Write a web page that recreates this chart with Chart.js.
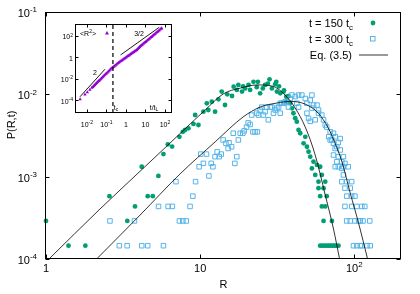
<!DOCTYPE html>
<html><head><meta charset="utf-8">
<script src="https://cdn.jsdelivr.net/npm/chart.js@4/dist/chart.umd.min.js"></script>
<style>
html,body{margin:0;padding:0;background:#fff;}
#wrap{position:relative;width:420px;height:294px;overflow:hidden;}
#main{position:absolute;left:0;top:0;}
#inset{position:absolute;left:40px;top:14px;}
</style></head><body>
<div id="wrap"><canvas id="main" width="420" height="294"></canvas><canvas id="inset" width="140" height="120"></canvas></div>
<script>
// ---------- main panel data ----------
const xTicks = [1, 10, 100];
const xTickLabels = ['1', '10', '10^2'];
const yTicks = [1e-4, 1e-3, 1e-2, 1e-1];
const yTickLabels = ['10^-4', '10^-3', '10^-2', '10^-1'];

const r150 = [1.0, 1.40, 1.80, 2.58, 3.37, 3.78, 4.18, 4.57, 4.93, 5.36, 5.78, 6.17, 6.58, 7.34, 7.72, 7.99, 8.40, 9.05, 9.28, 9.75,
  10.5, 11.05, 11.3, 11.9, 12.5, 13.15, 13.8, 14.5, 15.0, 16.1, 16.5, 17.3, 17.7, 18.7, 19.0, 19.6, 20.6, 21.1, 22.2, 23.3,
  23.7, 24.5, 25.5, 26.4, 27.5, 28.2, 29.2, 30.7, 31.2, 31.5, 32.5, 33.1, 34.8, 35.0, 36.2, 36.5, 37.5, 38.4, 39.4, 40.3,
  41.4, 42.4, 43.5, 44.6, 46.9, 48.1, 49.3, 50.5, 51.8, 53.1, 54.4, 55.8, 57.3, 58.6, 58.6, 60.1, 60.1, 61.6, 61.6, 63.2,
  63.2, 64.8, 64.8, 66.3, 71.6, 60.1, 62.0, 64.0, 66.0, 68.0, 70.0, 72.0, 74.0, 76.0, 79.0];
const p150 = [2.9e-4, 1.45e-4, 1.45e-4, 5.8e-4, 2.9e-4, 4.35e-4, 1.32e-3, 5.8e-4, 5.8e-4, 1.02e-3, 1.88e-3, 2.47e-3, 2.32e-3, 3.05e-3, 3.5e-3, 3.69e-3, 3.86e-3, 4.37e-3, 5.61e-3, 4.24e-3,
  6.15e-3, 7.78e-3, 6.45e-3, 8.14e-3, 6.15e-3, 8.7e-3, 1.08e-2, 7.42e-3, 1.0e-2, 9.55e-3, 1.24e-2, 1.13e-2, 1.30e-2, 1.08e-2, 1.25e-2, 1.18e-2, 1.30e-2, 1.13e-2, 1.42e-2, 1.22e-2,
  1.42e-2, 1.03e-2, 1.18e-2, 1.30e-2, 1.35e-2, 1.52e-2, 1.18e-2, 1.33e-2, 1.42e-2, 1.08e-2, 1.25e-2, 1.03e-2, 1.08e-2, 1.12e-2, 9.36e-3, 8.14e-3, 9.5e-3, 7.78e-3, 6.76e-3, 5.89e-3,
  5.12e-3, 4.66e-3, 3.69e-3, 3.37e-3, 2.54e-3, 3.05e-3, 2.31e-3, 2.01e-3, 1.75e-3, 1.26e-3, 1.52e-3, 1.05e-3, 1.39e-3, 8.7e-4, 7.25e-4, 1.32e-3, 5.8e-4, 1.05e-3, 4.35e-4, 7.25e-4,
  2.9e-4, 8.7e-4, 4.35e-4, 5.8e-4, 2.9e-4, 1.45e-4, 1.45e-4, 1.45e-4, 1.45e-4, 1.45e-4, 1.45e-4, 1.45e-4, 1.45e-4, 1.45e-4, 1.45e-4];

const r300 = [2.60, 2.99, 3.36, 3.75, 4.18, 4.57, 5.37, 5.78, 6.2, 6.6, 6.97, 7.34, 7.72, 8.13, 8.6, 8.97, 9.34, 9.85, 10.1, 10.5,
  11.0, 11.4, 11.8, 12.1, 12.5, 12.9, 13.3, 13.7, 14.1, 14.7, 15.2, 15.4, 16.0, 16.4, 16.8, 17.3, 17.7, 18.2, 18.9, 19.3,
  20.0, 20.5, 21.1, 21.6, 22.0, 22.7, 23.3, 23.5, 23.9, 24.5, 25.1, 25.7, 26.4, 27.0, 27.7, 28.5, 29.2, 29.9, 30.7, 31.5,
  32.3, 33.1, 33.1, 33.9, 34.8, 35.6, 36.5, 37.4, 38.4, 39.4, 41.4, 42.4, 43.5, 43.5, 45.7, 48.1, 49.3, 49.3, 50.5, 51.8,
  51.8, 53.1, 53.1, 54.4, 55.8, 57.3, 58.6, 58.6, 61.6, 63.2, 64.8, 66.3, 68.3, 69.8, 69.8, 71.6, 73.3, 73.3, 73.3, 75.2,
  75.2, 75.2, 77.1, 77.1, 78.8, 78.8, 78.8, 81.1, 81.1, 83.0, 83.0, 83.0, 85.0, 85.0, 85.0, 87.0, 87.0, 87.0, 89.3, 89.3,
  89.3, 91.4, 94.2, 94.2, 96.2, 96.2, 96.2, 98.8, 101, 101, 104, 104, 106.7, 109.4, 109.4, 112, 112, 114, 117, 121, 126, 127];
const p300 = [2.9e-4, 1.45e-4, 1.45e-4, 2.9e-4, 1.45e-4, 1.45e-4, 4.35e-4, 1.45e-4, 4.35e-4, 4.35e-4, 8.7e-4, 2.9e-4, 2.9e-4, 2.9e-4, 4.35e-4, 5.8e-4, 8.7e-4, 1.32e-3, 1.88e-3, 1.45e-3,
  1.88e-3, 1.02e-3, 1.45e-3, 1.32e-3, 1.75e-3, 2.0e-3, 1.75e-3, 1.88e-3, 2.79e-3, 2.54e-3, 2.2e-3, 2.58e-3, 2.31e-3, 3.37e-3, 1.45e-3, 1.75e-3, 2.79e-3, 3.37e-3, 3.37e-3, 3.6e-3,
  4.0e-3, 4.5e-3, 4.3e-3, 5.6e-3, 3.5e-3, 3.5e-3, 5.9e-3, 3.5e-3, 5.6e-3, 6.45e-3, 7.0e-3, 5.6e-3, 6.15e-3, 7.0e-3, 4.9e-3, 7.0e-3, 7.0e-3, 5.9e-3, 6.45e-3, 6.8e-3,
  7.0e-3, 7.8e-3, 5.9e-3, 7.8e-3, 7.8e-3, 8.1e-3, 8.1e-3, 7.0e-3, 8.9e-3, 9.8e-3, 9.4e-3, 7.8e-3, 9.8e-3, 7.0e-3, 9.8e-3, 8.9e-3, 7.8e-3, 5.9e-3, 5.1e-3, 8.5e-3,
  4.7e-3, 9.8e-3, 6.8e-3, 7.4e-3, 4.9e-3, 7.4e-3, 6.45e-3, 5.9e-3, 5.6e-3, 4.9e-3, 4.24e-3, 4.0e-3, 3.05e-3, 3.5e-3, 2.79e-3, 2.79e-3, 3.37e-3, 2.54e-3, 1.83e-3, 3.05e-3,
  2.2e-3, 1.32e-3, 2.31e-3, 1.52e-3, 2.6e-3, 1.75e-3, 1.32e-3, 2.9e-3, 2.11e-3, 1.52e-3, 1.26e-3, 8.7e-4, 1.75e-3, 1.32e-3, 1.05e-3, 1.45e-3, 7.25e-4, 4.35e-4, 8.7e-4, 5.8e-4,
  2.9e-4, 1.32e-3, 7.25e-4, 2.9e-4, 8.7e-4, 5.8e-4, 4.35e-4, 1.45e-4, 5.8e-4, 2.9e-4, 4.35e-4, 1.45e-4, 2.9e-4, 2.9e-4, 1.45e-4, 4.35e-4, 1.45e-4, 2.9e-4, 4.35e-4, 1.45e-4, 2.9e-4, 1.45e-4];

const eqR150 = [1.046, 2.24, 4.73, 7.84, 10.78, 14.1, 18.2, 23.4, 29.3, 35.6, 41.4, 48.1, 55.8, 64.8, 73.1, 80.3];
const eqP150 = [1.0e-4, 4.05e-4, 1.51e-3, 3.69e-3, 6.45e-3, 1.01e-2, 1.19e-2, 1.30e-2, 1.26e-2, 9.8e-3, 6.8e-3, 4.0e-3, 1.83e-3, 6.0e-4, 2.38e-4, 1.0e-4];
const eqR300 = [2.13, 4.08, 7.41, 12.5, 19.0, 24.5, 31.6, 38.4, 48.1, 58.4, 67.8, 76.4, 83.6, 94.2, 106.2, 122];
const eqP300 = [1.0e-4, 3.42e-4, 1.08e-3, 2.64e-3, 5.31e-3, 7.0e-3, 7.85e-3, 8.2e-3, 7.6e-3, 5.9e-3, 3.9e-3, 2.35e-3, 1.47e-3, 6.3e-4, 2.81e-4, 1.0e-4];

// ---------- inset data ----------
const insetXTicks = [1e-2, 1e-1, 1, 10, 100];
const insetXTickLabels = ['10^-2', '10^-1', '1', '10', '10^2'];
const insetYTicks = [1e-4, 1e-2, 1, 100];
const insetYTickLabels = ['10^-4', '10^-2', '1', '10^2'];
const tOverTL = [0.00447, 0.0079, 0.0105, 0.0141, 0.0178, 0.0200, 0.0224, 0.0251, 0.0282, 0.0316, 0.0355, 0.0398, 0.0447, 0.0501, 0.0562, 0.0631, 0.0708, 0.0794, 0.0891, 0.1,
  0.112, 0.126, 0.141, 0.158, 0.178, 0.200, 0.224, 0.251, 0.282, 0.316, 0.355, 0.398, 0.447, 0.501, 0.562, 0.631, 0.708, 0.794, 0.891, 1.0,
  1.12, 1.26, 1.41, 1.58, 1.78, 2.0, 2.24, 2.51, 2.82, 3.16, 3.55, 3.98, 4.47, 5.01, 5.62, 6.31, 7.08, 7.94, 8.91, 10,
  11.2, 12.6, 14.1, 15.8, 17.8, 20.0, 22.4, 25.1, 28.2, 31.6, 35.5, 39.8, 44.7, 50.1, 56.2, 63.1, 67.6];
const meanR2 = [1.15e-4, 3.2e-4, 5.3e-4, 9.1e-4, 1.38e-3, 1.69e-3, 2.08e-3, 2.56e-3, 3.16e-3, 3.88e-3, 4.78e-3, 5.87e-3, 7.23e-3, 8.89e-3, 1.09e-2, 1.35e-2, 1.66e-2, 2.04e-2, 2.51e-2, 3.08e-2,
  3.79e-2, 4.67e-2, 5.74e-2, 7.06e-2, 8.69e-2, 0.104, 0.123, 0.146, 0.173, 0.204, 0.242, 0.286, 0.338, 0.398, 0.461, 0.535, 0.620, 0.718, 0.832, 0.964,
  1.12, 1.29, 1.50, 1.74, 2.01, 2.33, 2.70, 3.13, 3.63, 4.21, 4.90, 6.07, 7.50, 9.27, 11.2, 13.4, 16.0, 19.2, 22.9, 27.4,
  32.7, 39.1, 46.8, 55.8, 66.8, 79.8, 95.5, 114, 136, 163, 195, 233, 279, 333, 398, 475, 530];
const slope2T = [0.0044, 0.084];
const slope2Y = [2.0e-4, 0.076];
const slope32T = [0.53, 51];
const slope32Y = [1.66, 650];
const tcValue = [0.215];

// ---------- helpers ----------
const FF = '"Liberation Sans", Arial, Helvetica, sans-serif';
const fnt = s => s + 'px ' + FF;
const GREEN = '#009e73', BLUE = '#56b4e9', PURPLE = '#9400d3';
const pts = (xs, ys) => xs.map((v, i) => ({x: v, y: ys[i]}));
function parseLabel(s) {
  const i = s.indexOf('^');
  return i < 0 ? [{t: s}] : [{t: s.slice(0, i)}, {t: s.slice(i + 1), sup: true}];
}
function drawRich(ctx, segs, x, y, size, align) {
  const small = size * 0.72;
  let w = 0;
  for (const s of segs) { ctx.font = fnt((s.sup || s.sub) ? small : size); w += ctx.measureText(s.t).width; }
  let cx = align === 'right' ? x - w : align === 'center' ? x - w / 2 : x;
  ctx.textAlign = 'left'; ctx.textBaseline = 'alphabetic';
  const base = y + size * 0.36;
  for (const s of segs) {
    ctx.font = fnt((s.sup || s.sub) ? small : size);
    const dy = s.sup ? -size * 0.42 : s.sub ? size * 0.28 : 0;
    ctx.fillText(s.t, cx, base + dy);
    cx += ctx.measureText(s.t).width;
  }
}
function frameAndTicks(ctx, a, xs, ys, xv, xl, yv, yl, tl, size, xLabY, yLabX) {
  ctx.save();
  ctx.strokeStyle = '#000'; ctx.lineWidth = 1;
  const L = Math.round(a.left) - 0.5, R = Math.round(a.right) - 0.5, T = Math.round(a.top) + 0.5, B = Math.round(a.bottom) - 0.5;
  ctx.strokeRect(L, T, R - L, B - T);
  ctx.beginPath();
  xv.forEach(v => { const p = Math.round(xs.getPixelForValue(v)) + 0.5; ctx.moveTo(p, B); ctx.lineTo(p, B - tl); ctx.moveTo(p, T); ctx.lineTo(p, T + tl); });
  yv.forEach(v => { const p = Math.round(ys.getPixelForValue(v)) + 0.5; ctx.moveTo(L, p); ctx.lineTo(L + tl, p); ctx.moveTo(R, p); ctx.lineTo(R - tl, p); });
  ctx.stroke();
  ctx.fillStyle = '#000';
  xv.forEach((v, i) => drawRich(ctx, parseLabel(xl[i]), xs.getPixelForValue(v), xLabY, size, 'center'));
  yv.forEach((v, i) => drawRich(ctx, parseLabel(yl[i]), yLabX, ys.getPixelForValue(v) + 1, size, 'right'));
  ctx.restore();
}

// ---------- main chart ----------
const mainDeco = {
  id: 'mainDeco',
  afterDraw(chart) {
    const {ctx, chartArea: a, scales: {x, y}} = chart;
    frameAndTicks(ctx, a, x, y, xTicks, xTickLabels, yTicks, yTickLabels, 4, 11, 268, 37);
    ctx.save();
    ctx.fillStyle = '#000';
    ctx.font = fnt(11); ctx.textAlign = 'center'; ctx.textBaseline = 'middle';
    ctx.fillText('R', (a.left + a.right) / 2, 285);
    ctx.translate(12, 125); ctx.rotate(-Math.PI / 2);
    ctx.fillText('P(R,t)', 0, 0);
    ctx.restore();
    // legend
    ctx.save();
    ctx.fillStyle = '#000';
    drawRich(ctx, [{t: 't = 150 t'}, {t: 'c', sub: true}], 353, 23, 11, 'right');
    drawRich(ctx, [{t: 't = 300 t'}, {t: 'c', sub: true}], 353, 39, 11, 'right');
    drawRich(ctx, [{t: 'Eq. (3.5)'}], 352, 55, 11, 'right');
    ctx.fillStyle = GREEN; ctx.beginPath(); ctx.arc(373, 23, 2.4, 0, Math.PI * 2); ctx.fill();
    ctx.strokeStyle = BLUE; ctx.lineWidth = 1; ctx.strokeRect(370.5, 36.5, 4.5, 4.5);
    ctx.strokeStyle = '#000'; ctx.lineWidth = 0.8; ctx.beginPath(); ctx.moveTo(359, 55); ctx.lineTo(388, 55); ctx.stroke();
    ctx.restore();
  }
};

new Chart(document.getElementById('main'), {
  type: 'scatter',
  data: {
    datasets: [
      {label: 'Eq. (3.5) t=150', data: pts(eqR150, eqP150), showLine: true, borderColor: '#000', borderWidth: 0.8, pointRadius: 0, cubicInterpolationMode: 'monotone', order: 0},
      {label: 'Eq. (3.5) t=300', data: pts(eqR300, eqP300), showLine: true, borderColor: '#000', borderWidth: 0.8, pointRadius: 0, cubicInterpolationMode: 'monotone', order: 0},
      {label: 't = 300 tc', data: pts(r300, p300), pointStyle: 'rect', pointRadius: 3.2, borderColor: BLUE, backgroundColor: 'rgba(0,0,0,0)', borderWidth: 1, order: 1, clip: false},
      {label: 't = 150 tc', data: pts(r150, p150), pointStyle: 'circle', pointRadius: 2.4, borderColor: GREEN, backgroundColor: GREEN, borderWidth: 0, order: 2, clip: false}
    ]
  },
  options: {
    responsive: false, animation: false, events: [],
    layout: {padding: {left: 0, top: 12, right: 19, bottom: 0}},
    plugins: {legend: {display: false}, tooltip: {enabled: false}},
    scales: {
      x: {type: 'logarithmic', min: 1, max: 201, ticks: {display: false}, grid: {display: false}, border: {display: false},
          afterFit: s => { s.height = 35; }},
      y: {type: 'logarithmic', min: 1e-4, max: 0.1, ticks: {display: false}, grid: {display: false}, border: {display: false},
          afterFit: s => { s.width = 46; }}
    }
  },
  plugins: [mainDeco]
});

// ---------- inset chart ----------
const insetDeco = {
  id: 'insetDeco',
  afterDraw(chart) {
    const {ctx, chartArea: a, scales: {x, y}} = chart;
    frameAndTicks(ctx, a, x, y, insetXTicks, insetXTickLabels, insetYTicks, insetYTickLabels, 3, 7, 110, 33);
    ctx.save();
    ctx.fillStyle = '#000';
    drawRich(ctx, [{t: '<R'}, {t: '2', sup: true}, {t: '>'}], 48, 19, 7, 'center');
    drawRich(ctx, [{t: '2'}], 55, 58, 7, 'center');
    drawRich(ctx, [{t: '3/2'}], 99, 19, 7, 'center');
    drawRich(ctx, [{t: 't'}, {t: 'c', sub: true}], 76, 93, 7, 'center');
    drawRich(ctx, [{t: 't/t'}, {t: 'L', sub: true}], 114, 93, 7, 'center');
    ctx.fillStyle = PURPLE;
    ctx.beginPath(); ctx.moveTo(67, 17); ctx.lineTo(69, 20.5); ctx.lineTo(65, 20.5); ctx.closePath(); ctx.fill();
    ctx.restore();
  }
};

const iyMin = Math.pow(10, -5.22), iyMax = Math.pow(10, 3.12);
new Chart(document.getElementById('inset'), {
  type: 'scatter',
  data: {
    datasets: [
      {label: 'slope 2', data: pts(slope2T, slope2Y), showLine: true, borderColor: '#000', borderWidth: 0.9, pointRadius: 0, order: 0},
      {label: 'slope 3/2', data: pts(slope32T, slope32Y), showLine: true, borderColor: '#000', borderWidth: 0.9, pointRadius: 0, order: 0},
      {label: 'tc', data: [{x: tcValue[0], y: iyMin}, {x: tcValue[0], y: iyMax}], showLine: true, borderColor: '#000', borderWidth: 1.2, borderDash: [4, 3], pointRadius: 0, order: 0},
      {label: '<R2>', data: pts(tOverTL, meanR2), pointStyle: 'triangle', pointRadius: 2, borderColor: PURPLE, backgroundColor: PURPLE, borderWidth: 0, order: 1}
    ]
  },
  options: {
    responsive: false, animation: false, events: [],
    layout: {padding: {left: 0, top: 10, right: 8, bottom: 0}},
    plugins: {legend: {display: false}, tooltip: {enabled: false}},
    scales: {
      x: {type: 'logarithmic', min: Math.pow(10, -2.56), max: Math.pow(10, 2.36), ticks: {display: false}, grid: {display: false}, border: {display: false},
          afterFit: s => { s.height = 21; }},
      y: {type: 'logarithmic', min: iyMin, max: iyMax, ticks: {display: false}, grid: {display: false}, border: {display: false},
          afterFit: s => { s.width = 36; }}
    }
  },
  plugins: [insetDeco]
});
</script>
</body></html>
